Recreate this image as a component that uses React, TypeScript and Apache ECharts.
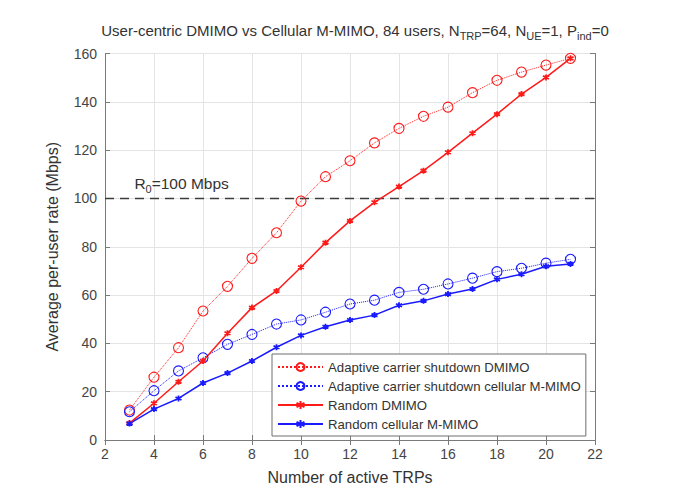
import React, { useEffect, useRef } from "react";
import * as echarts from "echarts";

const trps = [3, 4, 5, 6, 7, 8, 9, 10, 11, 12, 13, 14, 15, 16, 17, 18, 19, 20, 21];
const adaptiveDmimo = [12.4, 26, 38.2, 53.4, 63.6, 75.2, 85.8, 98.9, 109, 115.6, 123, 129, 134, 137.8, 143.8, 148.9, 152.3, 155.2, 158];
const adaptiveCellular = [11.7, 20.4, 28.6, 34, 39.6, 43.7, 48, 49.7, 52.9, 56.3, 57.9, 61.1, 62.4, 64.6, 67, 69.7, 71.1, 73.2, 74.8];
const randomDmimo = [7, 15.2, 24.1, 32.7, 44.2, 54.8, 61.7, 71.5, 81.7, 90.7, 98.4, 104.9, 111.5, 119.1, 127, 134.9, 143.2, 150.1, 158];
const randomCellular = [6.8, 12.8, 17.2, 23.6, 27.7, 32.7, 38.4, 43.3, 46.9, 49.7, 51.7, 55.8, 57.6, 60.4, 62.5, 66.5, 68.6, 71.9, 72.9];
const seriesNames = [
  "Adaptive carrier shutdown DMIMO",
  "Adaptive carrier shutdown cellular M-MIMO",
  "Random DMIMO",
  "Random cellular M-MIMO",
];
const thresholdValue = 100;
const thresholdLabelPos = [3.2, 106];

const FONT = '"Liberation Sans", Arial, Helvetica, sans-serif';
const RED = "#ff1a1a";
const BLUE = "#1a1aff";
const TXT = "#333333";
const STAR = "path://M5,0L5,10M0.67,2.5L9.33,7.5M0.67,7.5L9.33,2.5";

const pairs = (ys: number[]) => trps.map((x, i) => [x, ys[i]]);

export default function App() {
  const ref = useRef<HTMLDivElement>(null);
  useEffect(() => {
    if (!ref.current) return;
    const chart = echarts.init(ref.current, null, { renderer: "svg" });
    const axisCommon = {
      axisLine: { show: true, lineStyle: { color: "#7a7a7a", width: 1 } },
      axisTick: { show: true, inside: true, length: 5, lineStyle: { color: "#7a7a7a" } },
    };
    chart.setOption({
      animation: false,
      backgroundColor: "#ffffff",
      textStyle: { fontFamily: FONT },
      title: {
        text: "User-centric DMIMO vs Cellular M-MIMO, 84 users, N{sub|TRP}=64, N{sub|UE}=1, P{sub|ind}=0",
        left: 350,
        top: 15,
        textAlign: "center",
        textStyle: {
          fontFamily: FONT,
          fontSize: 15,
          fontWeight: "normal",
          color: TXT,
          rich: {
            sub: { fontSize: 11, fontFamily: FONT, color: TXT, padding: [10, 0, 0, 0] },
          },
        },
      },
      grid: { left: 105, right: 80, top: 53.5, bottom: 61, containLabel: false },
      xAxis: [
        {
          type: "value",
          min: 2,
          max: 22,
          interval: 2,
          name: "Number of active TRPs",
          nameLocation: "middle",
          nameGap: 29,
          nameTextStyle: { fontFamily: FONT, fontSize: 16, color: TXT },
          axisLabel: { fontFamily: FONT, fontSize: 14, color: "#444444", margin: 7 },
          splitLine: { show: true, lineStyle: { color: "#e4e4e4", width: 1 } },
          ...axisCommon,
        },
        {
          type: "value",
          position: "top",
          min: 2,
          max: 22,
          interval: 2,
          axisLabel: { show: false },
          splitLine: { show: false },
          ...axisCommon,
        },
      ],
      yAxis: [
        {
          type: "value",
          min: 0,
          max: 160,
          interval: 20,
          name: "Average per-user rate (Mbps)",
          nameLocation: "middle",
          nameGap: 45,
          nameTextStyle: { fontFamily: FONT, fontSize: 16, color: TXT },
          axisLabel: { fontFamily: FONT, fontSize: 14, color: "#444444", margin: 8 },
          splitLine: { show: true, lineStyle: { color: "#e4e4e4", width: 1 } },
          ...axisCommon,
        },
        {
          type: "value",
          position: "right",
          min: 0,
          max: 160,
          interval: 20,
          axisLabel: { show: false },
          splitLine: { show: false },
          ...axisCommon,
        },
      ],
      legend: {
        data: seriesNames,
        orient: "vertical",
        left: 272,
        top: 354,
        padding: [5, 5, 4, 5],
        itemWidth: 45,
        itemHeight: 10,
        itemGap: 3,
        backgroundColor: "#ffffff",
        borderColor: "#6e6e6e",
        borderWidth: 1,
        borderRadius: 0,
        textStyle: { fontFamily: FONT, fontSize: 13.2, color: TXT, lineHeight: 16 },
      },
      series: [
        {
          name: "threshold",
          type: "line",
          data: [[2, thresholdValue], [22, thresholdValue]],
          symbol: "none",
          silent: true,
          lineStyle: { color: "#3c3c3c", width: 1.5, type: [9, 6] },
          markPoint: {
            symbol: "circle",
            symbolSize: 0,
            data: [{ coord: thresholdLabelPos }],
            label: {
              show: true,
              position: "right",
              distance: 0,
              formatter: "R{sub|0}=100 Mbps",
              fontFamily: FONT,
              fontSize: 15.5,
              color: TXT,
              rich: { sub: { fontSize: 11, fontFamily: FONT, color: TXT, padding: [10, 0, 0, 0] } },
            },
          },
          z: 1,
        },
        {
          name: seriesNames[0],
          type: "line",
          data: pairs(adaptiveDmimo),
          symbol: "circle",
          symbolSize: 10,
          lineStyle: { color: RED, width: 1, type: "dotted" },
          itemStyle: { color: "rgba(255,255,255,0)", borderColor: RED, borderWidth: 1.1 },
        },
        {
          name: seriesNames[1],
          type: "line",
          data: pairs(adaptiveCellular),
          symbol: "circle",
          symbolSize: 10,
          lineStyle: { color: BLUE, width: 1, type: "dotted" },
          itemStyle: { color: "rgba(255,255,255,0)", borderColor: BLUE, borderWidth: 1.1 },
        },
        {
          name: seriesNames[2],
          type: "line",
          data: pairs(randomDmimo),
          symbol: STAR,
          symbolSize: 6,
          lineStyle: { color: RED, width: 1.5, type: "solid" },
          itemStyle: { color: RED, borderColor: RED, borderWidth: 1.8 },
        },
        {
          name: seriesNames[3],
          type: "line",
          data: pairs(randomCellular),
          symbol: STAR,
          symbolSize: 6,
          lineStyle: { color: BLUE, width: 1.5, type: "solid" },
          itemStyle: { color: BLUE, borderColor: BLUE, borderWidth: 1.8 },
        },
      ],
    });
    return () => chart.dispose();
  }, []);
  return (
    <div
      ref={ref}
      style={{ position: "fixed", left: 0, top: 0, width: 675, height: 501, background: "#fff" }}
    />
  );
}
